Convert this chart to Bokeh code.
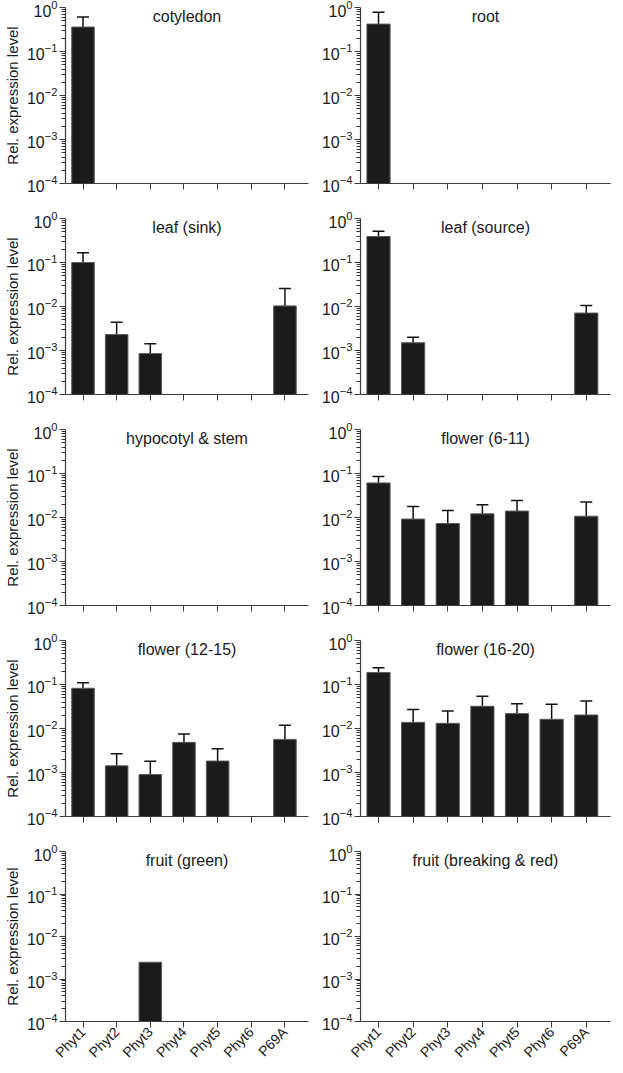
import math
from bokeh.plotting import figure
from bokeh.models import Range1d, FixedTicker, Label, Whisker, TeeHead, ColumnDataSource
from bokeh.layouts import column, row
from bokeh.embed import file_html
from bokeh.resources import INLINE

nan = float("nan")

genes = ["Phyt1", "Phyt2", "Phyt3", "Phyt4", "Phyt5", "Phyt6", "P69A"]
y_ticks = [1e-4, 1e-3, 1e-2, 1e-1, 1e0]
y_minor_ticks = [m * 10.0 ** e for e in range(-4, 0) for m in range(2, 10)]

titles = ["cotyledon", "root", "leaf (sink)", "leaf (source)", "hypocotyl & stem",
          "flower (6-11)", "flower (12-15)", "flower (16-20)", "fruit (green)",
          "fruit (breaking & red)"]

cotyledon = [0.36, nan, nan, nan, nan, nan, nan]
cotyledon_err = [0.61, nan, nan, nan, nan, nan, nan]
root = [0.42, nan, nan, nan, nan, nan, nan]
root_err = [0.78, nan, nan, nan, nan, nan, nan]
leaf_sink = [0.10, 0.0023, 0.00085, nan, nan, nan, 0.0103]
leaf_sink_err = [0.166, 0.0044, 0.00143, nan, nan, nan, 0.0257]
leaf_source = [0.39, 0.0015, nan, nan, nan, nan, 0.0071]
leaf_source_err = [0.51, 0.0020, nan, nan, nan, nan, 0.0106]
hypocotyl_stem = [nan, nan, nan, nan, nan, nan, nan]
hypocotyl_stem_err = [nan, nan, nan, nan, nan, nan, nan]
flower_6_11 = [0.061, 0.0092, 0.0073, 0.0121, 0.014, nan, 0.0107]
flower_6_11_err = [0.086, 0.0178, 0.0144, 0.0195, 0.0244, nan, 0.0224]
flower_12_15 = [0.082, 0.00142, 0.00090, 0.00484, 0.00182, nan, 0.00566]
flower_12_15_err = [0.109, 0.00267, 0.00179, 0.0075, 0.00347, nan, 0.0118]
flower_16_20 = [0.187, 0.0138, 0.0131, 0.032, 0.0218, 0.0162, 0.0203]
flower_16_20_err = [0.239, 0.0269, 0.0251, 0.054, 0.0367, 0.0355, 0.0423]
fruit_green = [nan, nan, 0.00248, nan, nan, nan, nan]
fruit_green_err = [nan, nan, nan, nan, nan, nan, nan]
fruit_red = [nan, nan, nan, nan, nan, nan, nan]
fruit_red_err = [nan, nan, nan, nan, nan, nan, nan]

series = [(cotyledon, cotyledon_err), (root, root_err), (leaf_sink, leaf_sink_err),
          (leaf_source, leaf_source_err), (hypocotyl_stem, hypocotyl_stem_err),
          (flower_6_11, flower_6_11_err), (flower_12_15, flower_12_15_err),
          (flower_16_20, flower_16_20_err), (fruit_green, fruit_green_err),
          (fruit_red, fruit_red_err)]

FONT = "Liberation Sans"
TXT = "#1a1a1a"
AX = "#3a3a3a"
X0, X1 = -0.52, 6.7
Y0, Y1 = 1e-4, 1.0


def make_panel(title, vals, errs, is_left, is_bottom):
    width = 310 if is_left else 302
    top_b = 7
    bot_b = 42 if is_bottom else 28
    height = top_b + 176 + bot_b
    p = figure(width=width, height=height, y_axis_type="log",
               x_range=Range1d(X0, X1), y_range=Range1d(Y0, Y1),
               output_backend="svg", toolbar_location=None,
               min_border_left=60 if is_left else 50, min_border_right=2,
               min_border_top=top_b, min_border_bottom=bot_b)
    p.outline_line_color = None
    p.xgrid.visible = False
    p.ygrid.visible = False

    xs = [i for i, v in enumerate(vals) if not math.isnan(v)]
    tops = [vals[i] for i in xs]
    bars = ColumnDataSource(dict(x=xs, top=tops, bottom=[Y0] * len(xs)))
    p.vbar(x="x", top="top", bottom="bottom", width=0.67, source=bars,
           fill_color="#1b1b1b", line_color="#5a5a5a", line_width=1)

    ex = [i for i, v in enumerate(errs) if not math.isnan(v) and not math.isnan(vals[i])]
    esrc = ColumnDataSource(dict(base=ex, lower=[vals[i] for i in ex],
                                 upper=[errs[i] for i in ex]))
    if ex:
        w = Whisker(base="base", lower="lower", upper="upper", source=esrc,
                    line_color="#111111", line_width=1.5,
                    upper_head=TeeHead(size=12, line_color="#111111", line_width=1.5),
                    lower_head=None)
        p.add_layout(w)

    p.add_layout(Label(x=(X0 + X1) / 2, y=10 ** -0.2, text=title,
                       text_align="center", text_baseline="middle",
                       text_font=FONT, text_font_size="16px", text_color=TXT))

    ya = p.yaxis[0]
    ya.ticker = FixedTicker(ticks=y_ticks, minor_ticks=y_minor_ticks)
    ya.axis_line_color = AX
    ya.axis_line_width = 1.2
    ya.major_tick_line_color = AX
    ya.minor_tick_line_color = "#333333"
    ya.minor_tick_line_width = 1
    ya.major_tick_in = 0
    ya.major_tick_out = 6
    ya.minor_tick_in = 0
    ya.minor_tick_out = 4
    ya.major_label_standoff = 2
    ya.major_label_text_font = FONT
    ya.major_label_text_font_size = "16px"
    ya.major_label_text_color = TXT
    if is_left:
        ya.axis_label = "Rel. expression level"
        ya.axis_label_text_font = FONT
        ya.axis_label_text_font_size = "15px"
        ya.axis_label_text_font_style = "normal"
        ya.axis_label_text_color = TXT
        ya.axis_label_standoff = 3

    xa = p.xaxis[0]
    xa.ticker = FixedTicker(ticks=list(range(len(genes))))
    xa.axis_line_color = AX
    xa.axis_line_width = 1.2
    xa.major_tick_line_color = AX
    xa.minor_tick_line_color = None
    xa.major_tick_in = 0
    xa.major_tick_out = 6
    if is_bottom:
        xa.major_label_overrides = {i: g for i, g in enumerate(genes)}
        xa.major_label_orientation = math.pi / 4
        xa.major_label_text_font = FONT
        xa.major_label_text_font_size = "14px"
        xa.major_label_text_color = TXT
        xa.major_label_standoff = 2
    else:
        xa.major_label_overrides = {i: "" for i in range(len(genes))}
        xa.major_label_text_font_size = "0px"
    return p


rows = []
for r in range(5):
    figs = []
    for c in range(2):
        k = r * 2 + c
        vals, errs = series[k]
        figs.append(make_panel(titles[k], vals, errs, c == 0, r == 4))
    rows.append(row(*figs))

layout = column(*rows)
open("out.html", "w").write(file_html(layout, INLINE))
